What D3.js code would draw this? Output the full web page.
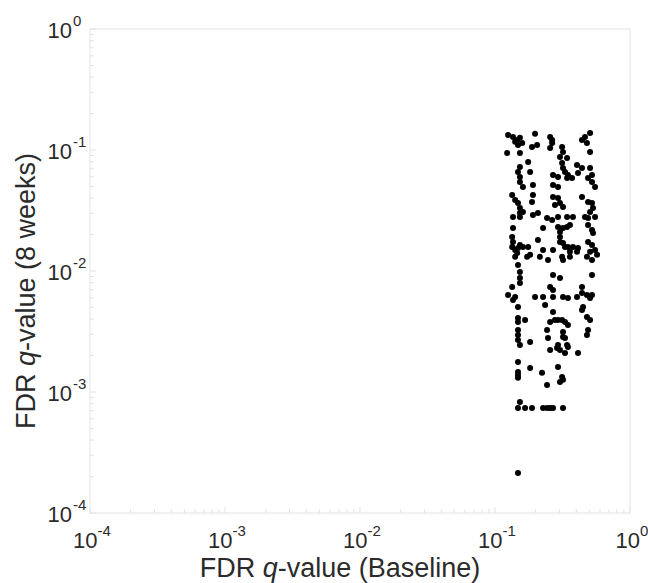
<!DOCTYPE html>
<html>
<head>
<meta charset="utf-8">
<script src="https://cdn.jsdelivr.net/npm/d3@7"></script>
<style>
  body { margin: 0; background: #fff; }
  text { font-family: "Liberation Sans", Arial, sans-serif; fill: #2b2b2b; }
</style>
</head>
<body>
<svg id="chart" width="648" height="583"></svg>
<script>
// FDR q-values, baseline (x) vs 8 weeks (y)
var baselineQ = [
  0.125,0.136,0.146,0.141,0.153,0.159,0.148,0.123,0.153,0.198,0.188,0.205,0.256,0.265,0.265,0.256,
  0.314,0.319,0.303,0.342,0.441,0.464,0.506,0.480,0.506,0.176,0.153,0.148,0.153,0.182,0.153,0.161,
  0.191,0.314,0.319,0.330,0.347,0.269,0.293,0.342,0.372,0.405,0.441,0.412,0.506,0.523,0.489,0.523,
  0.551,0.269,0.293,0.191,0.188,0.134,0.141,0.148,0.153,0.161,0.153,0.269,0.293,0.303,0.278,0.319,
  0.441,0.489,0.523,0.532,0.506,0.191,0.208,
  0.136,0.153,0.243,0.265,0.293,0.342,0.378,0.464,0.489,0.551,
  0.136,0.227,0.293,0.319,0.342,0.359,0.303,0.489,0.523,0.532,0.134,0.136,0.134,0.141,0.148,0.146,
  0.141,0.153,0.161,0.176,0.182,0.173,0.208,0.303,0.303,0.319,0.330,0.347,0.359,0.378,0.412,0.405,
  0.314,0.319,0.359,0.227,0.269,0.215,0.247,0.489,0.523,0.506,0.551,0.570,0.523,0.480,0.148,0.153,
  0.153,0.153,0.269,0.303,0.523,0.134,0.125,0.141,0.136,0.198,0.227,0.256,0.269,0.269,0.319,0.347,
  0.405,0.441,0.441,0.480,0.523,0.506,
  0.148,0.235,0.269,0.441,0.449,0.148,0.148,0.167,0.256,0.278,0.293,0.314,0.330,0.347,0.480,0.506,
  0.148,0.148,0.243,0.247,0.319,0.319,0.330,0.489,0.480,0.148,0.153,0.182,0.256,0.288,0.293,0.303,
  0.342,0.347,0.330,0.412,0.148,0.182,0.223,0.293,0.148,0.148,0.148,0.314,0.319,0.303,0.243,
  0.153,0.148,0.167,0.188,0.227,0.243,0.256,0.269,0.319,0.148
];
var weeks8Q = [
  0.133,0.128,0.121,0.117,0.126,0.114,0.110,0.0945,0.0945,0.136,0.106,0.110,0.128,0.121,0.114,0.104,
  0.106,0.0963,0.0875,0.0859,0.121,0.128,0.138,0.114,0.0963,0.0796,0.0724,0.0658,0.0598,0.0658,0.0544,0.0494,
  0.0514,0.0781,0.0710,0.0658,0.0621,0.0621,0.0598,0.0587,0.0587,0.0752,0.0710,0.0645,0.0710,0.0621,0.0587,0.0544,
  0.0494,0.0514,0.0494,0.0425,0.0372,0.0425,0.0386,0.0365,0.0332,0.0307,0.0302,0.0409,0.0401,0.0365,0.0351,0.0338,
  0.0409,0.0372,0.0365,0.0332,0.0307,0.0290,0.0302,
  0.0279,0.0279,0.0274,0.0264,0.0279,0.0279,0.0279,0.0279,0.0274,0.0279,
  0.0227,0.0227,0.0231,0.0227,0.0231,0.0240,0.0210,0.0240,0.0218,0.0206,0.0191,0.0174,0.0158,0.0149,0.0155,0.0141,
  0.0131,0.0164,0.0158,0.0158,0.0136,0.0131,0.0180,0.0191,0.0174,0.0170,0.0158,0.0158,0.0144,0.0158,0.0155,0.0144,
  0.0131,0.0123,0.0131,0.0149,0.0149,0.0131,0.0123,0.0174,0.0164,0.0144,0.0149,0.0136,0.0123,0.0131,0.0112,0.0098,
  0.00875,0.00796,0.00927,0.00875,0.00927,0.00738,0.00633,0.00610,0.00576,0.00610,0.00610,0.00738,0.00697,0.00610,0.00610,0.00598,
  0.00610,0.00738,0.00658,0.00633,0.00633,0.00598,
  0.00504,0.00524,0.00458,0.00476,0.00504,0.00409,0.00379,0.00394,0.00379,0.00394,0.00394,0.00394,0.00379,0.00358,0.00417,0.00394,
  0.00325,0.00296,0.00325,0.00280,0.00313,0.00285,0.00280,0.00325,0.00296,0.00269,0.00245,0.00259,0.00222,0.00231,0.00245,0.00222,
  0.00245,0.00235,0.00210,0.00210,0.00177,0.00158,0.00144,0.00161,0.00146,0.00138,0.00131,0.00133,0.00126,0.00121,0.00114,
  0.000827,0.000738,0.000738,0.000738,0.000738,0.000738,0.000738,0.000738,0.000738,0.000214
];
var tickExps = [-4, -3, -2, -1, 0];
var xTitle = ["FDR ", "q", "-value (Baseline)"];
var yTitle = ["FDR ", "q", "-value (8 weeks)"];

var svg = d3.select("#chart");
var plotLeft = 90, plotRight = 630, plotTop = 29, plotBottom = 513;

var x = d3.scaleLog().domain([1e-4, 1]).range([plotLeft, plotRight]);
var y = d3.scaleLog().domain([1e-4, 1]).range([plotBottom, plotTop]);

// minor + major tick values
var allTicks = [];
tickExps.forEach(function(e) {
  if (e == 0) { allTicks.push(1); return; }
  for (var m = 1; m < 10; m++) allTicks.push(m * Math.pow(10, e));
});

var frameColor = "#e3e3e3";

// frame
svg.append("rect")
  .attr("x", plotLeft).attr("y", plotTop)
  .attr("width", plotRight - plotLeft).attr("height", plotBottom - plotTop)
  .attr("fill", "none")
  .attr("stroke", frameColor)
  .attr("stroke-width", 1);

// ticks inward, bottom and left
var g = svg.append("g").attr("stroke", frameColor).attr("stroke-width", 1);
allTicks.forEach(function(t) {
  var major = Math.abs(Math.log10(t) - Math.round(Math.log10(t))) < 1e-9;
  var len = major ? 6 : 4;
  g.append("line")
    .attr("x1", x(t)).attr("x2", x(t))
    .attr("y1", plotBottom).attr("y2", plotBottom - len);
  g.append("line")
    .attr("x1", plotLeft).attr("x2", plotLeft + len)
    .attr("y1", y(t)).attr("y2", y(t));
});

// tick labels as 10^e
tickExps.forEach(function(e) {
  var v = Math.pow(10, e);
  var tx = svg.append("text")
    .attr("x", x(v) + 2).attr("y", 548)
    .attr("text-anchor", "middle")
    .attr("font-size", 22);
  tx.append("tspan").text("10");
  tx.append("tspan").attr("dy", -12).attr("font-size", 15).text(e);

  svg.append("text")
    .attr("x", 72).attr("y", y(v) + 9)
    .attr("text-anchor", "end")
    .attr("font-size", 22)
    .text("10");
  svg.append("text")
    .attr("x", 73).attr("y", y(v) - 3)
    .attr("font-size", 15)
    .text(e);
});

// axis titles
function title(sel, parts) {
  parts.forEach(function(p, i) {
    sel.append("tspan").attr("font-style", i == 1 ? "italic" : null).text(p);
  });
}
var xt = svg.append("text")
  .attr("x", 340).attr("y", 577)
  .attr("text-anchor", "middle")
  .attr("font-size", 27);
title(xt, xTitle);

var yt = svg.append("text")
  .attr("transform", "translate(35,291) rotate(-90)")
  .attr("text-anchor", "middle")
  .attr("font-size", 27);
title(yt, yTitle);

// points
var pts = baselineQ.map(function(b, i) { return [b, weeks8Q[i]]; });
svg.append("g").selectAll("circle")
  .data(pts)
  .enter().append("circle")
  .attr("cx", function(d) { return x(d[0]); })
  .attr("cy", function(d) { return y(d[1]); })
  .attr("r", 3)
  .attr("fill", "#000");
</script>
</body>
</html>
